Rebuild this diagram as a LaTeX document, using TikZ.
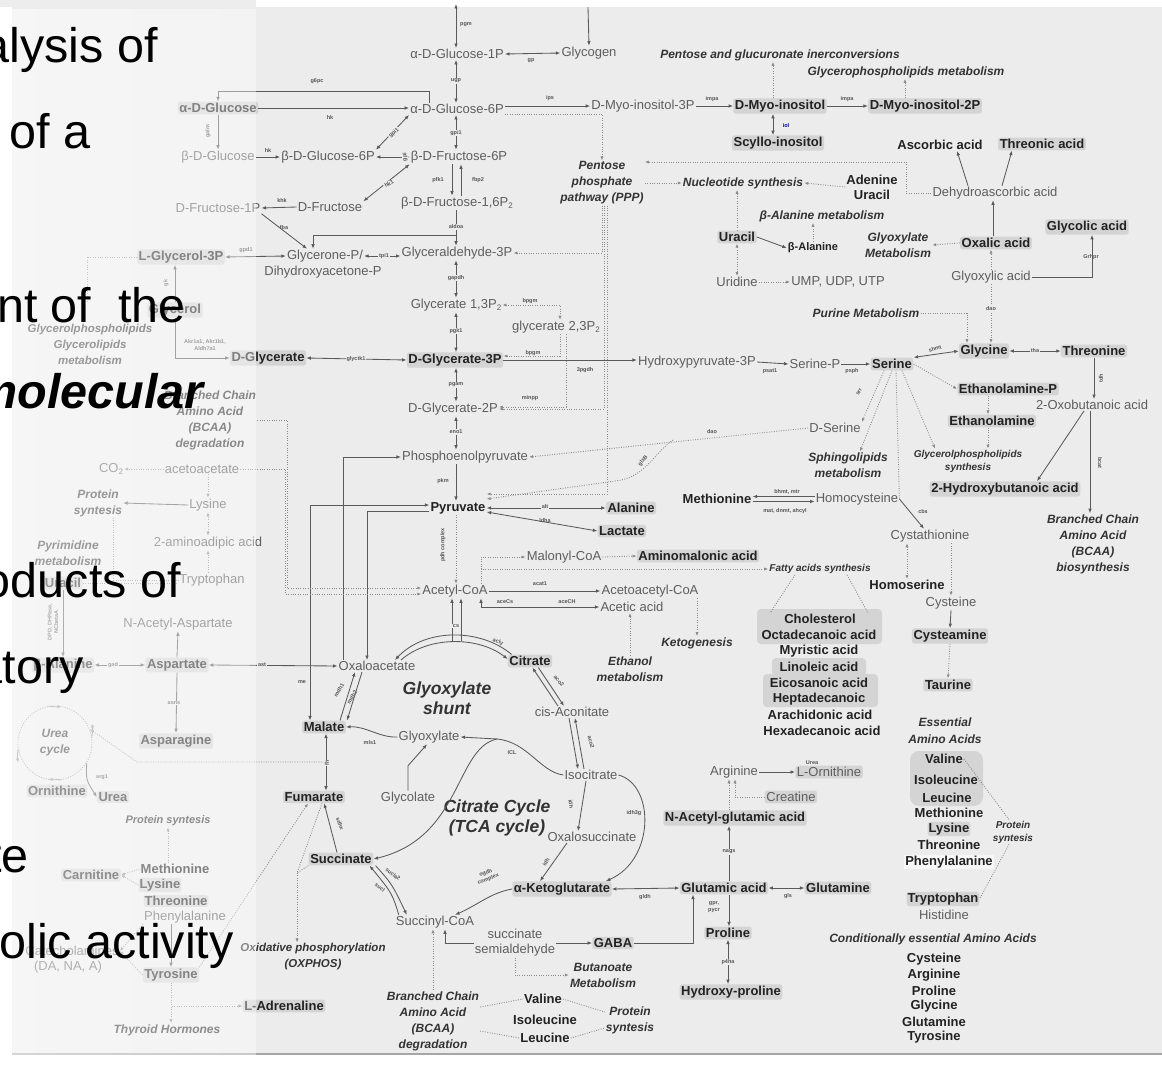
\documentclass[tikz,border=0pt]{standalone}
\usepackage{fontspec}
\setmainfont{Liberation Sans}
\usetikzlibrary{arrows.meta,calc,fadings}
\definecolor{bg}{HTML}{ECECEC}
\definecolor{hl}{HTML}{D4D4D4}
\definecolor{metc}{HTML}{5E5E5E}
\definecolor{keyc}{HTML}{222222}
\definecolor{routec}{HTML}{333333}
\definecolor{linec}{HTML}{5A5A5A}
\definecolor{dotc}{HTML}{8C8C8C}
\definecolor{enzc}{HTML}{555555}
\newcommand\subtwo{\raisebox{-0.3ex}{\fontsize{8}{8}\selectfont 2}}
\tikzfading[name=slidefade, left color=transparent!46, right color=transparent!60]
\tikzset{
  met/.style={font=\fontsize{13}{15}\selectfont, text=metc, inner sep=1pt, align=center},
  kmet/.style={font=\bfseries\fontsize{13}{15}\selectfont, text=keyc, fill=hl, rounded corners=2.5pt, inner sep=1.6pt, align=center},
  keyplain/.style={font=\bfseries\fontsize{13}{15}\selectfont, text=keyc, inner sep=1pt, align=center},
  keyreg/.style={met, fill=hl, rounded corners=2.5pt, inner sep=1.6pt},
  route/.style={font=\bfseries\itshape\fontsize{12}{16}\selectfont, text=routec, align=center, inner sep=1pt},
  routesm/.style={route, font=\bfseries\itshape\fontsize{10}{13}\selectfont},
  routebig/.style={route, font=\bfseries\itshape\fontsize{17.5}{20}\selectfont},
  enz/.style={font=\bfseries\fontsize{5.5}{6.5}\selectfont, text=enzc, inner sep=0.8pt, align=center},
  enzb/.style={enz, fill=bg},
  rx/.style={draw=linec, line width=0.85pt, -{Latex[length=4.5pt,width=3.6pt]}},
  rxx/.style={draw=linec, line width=0.85pt, {Latex[length=4.5pt,width=3.6pt]}-{Latex[length=4.5pt,width=3.6pt]}},
  rl/.style={draw=linec, line width=0.85pt},
  dotl/.style={draw=dotc, line width=0.9pt, dash pattern=on 0.9pt off 1.5pt},
  dota/.style={dotl, -{Latex[length=4pt,width=3.2pt]}},
  dotaa/.style={dotl, {Latex[length=4pt,width=3.2pt]}-{Latex[length=4pt,width=3.2pt]}},
  circtip/.style={draw=dotc, line width=0.9pt, -{Latex[length=4pt,width=3.2pt]}},
  slide/.style={font=\fontsize{48.5}{52}\selectfont, text=black, anchor=base east, inner sep=0pt},
}
\begin{document}
\begin{tikzpicture}[x=1pt, y=-1pt]
\useasboundingbox (0,0) rectangle (1162,1065);
% panel
\fill[white] (0,0) rectangle (1162,1065);
\fill[bg] (12,7) rectangle (1162,1054);
\fill[black!7] (0,0) rectangle (256,7);
\draw[black!35, line width=1.2pt] (12,1054) -- (1162,1054);

% ---------- glycolysis column ----------
\coordinate (colx) at (456,0);
\coordinate (colL) at (452,0);
\coordinate (colR) at (461,0);
\node[met] (g1p) at (457,54) {α-D-Glucose-1P};
\node[met] (glycogen) at (589,53) {Glycogen};
\node[met] (g6p) at (457,109) {α-D-Glucose-6P};
\node[met] (f6p) at (459,157) {β-D-Fructose-6P};
\node[met] (f16p) at (457,203) {β-D-Fructose-1,6P\subtwo};
\node[met] (gap) at (457,253) {Glyceraldehyde-3P};
\node[met] (bpg13) at (456,305) {Glycerate 1,3P\subtwo};
\node[met] (bpg23) at (556,327) {glycerate 2,3P\subtwo};
\node[kmet] (pg3) at (455,360) {D-Glycerate-3P};
\node[met] (pg2) at (453,409) {D-Glycerate-2P};
\node[met] (pep) at (465,457) {Phosphoenolpyruvate};
\node[keyplain] (pyr) at (458,508) {Pyruvate};
\node[met] (accoa) at (455,591) {Acetyl-CoA};

\coordinate (glyin) at (456,4);
\coordinate (glycin) at (588,7);
\draw[rxx] (glyin) -- (g1p.north -| colx);
\draw[rx] (glycin) -- (glycogen.north);
\draw[rxx] (g1p.east) -- (glycogen.west);
\draw[rxx] (g1p.south -| colx) -- (g6p.north -| colx);
\draw[rxx] (g6p.south -| colx) -- (f6p.north -| colx);
\draw[rx] (f6p.south -| colL) -- (f16p.north -| colL);
\draw[rx] (f16p.north -| colR) -- (f6p.south -| colR);
\draw[rx] (f16p.south -| colx) -- (gap.north -| colx);
\draw[rxx] (gap.south -| colx) -- (bpg13.north -| colx);
\draw[rxx] (bpg13.south -| colx) -- (pg3.north -| colx);
\draw[rxx] (pg3.south -| colx) -- (pg2.north -| colx);
\draw[rxx] (pg2.south -| colx) -- (pep.north -| colx);
\draw[rx] (pep.south -| colx) -- (pyr.north -| colx);
\draw[dota] (pyr.south -| colx) -- (accoa.north -| colx);

\node[enz] (ePgm) at (466,25) {pgm};
\node[enz] (eGp) at (531,61) {gp};
\node[enzb] (eUgp) at (456,81) {ugp};
\node[enzb] (eGpi) at (456,133) {gpi1};
\node[enz] (ePfk) at (438,180) {pfk1};
\node[enz] (eFbp) at (478,180) {fbp2};
\node[enzb] (eAld) at (456,227) {aldoa};
\node[enzb] (eGapdh) at (456,278) {gapdh};
\node[enzb] (ePgk) at (456,331) {pgk1};
\node[enzb] (ePgam) at (456,385) {pgam};
\node[enzb] (eEno) at (456,432) {eno1};
\node[enz] (ePkm) at (443,481) {pkm};
\node[enz, rotate=90] (ePdh) at (443,545) {pdh complex};

% ---------- glucose / fructose branch ----------
\node[kmet] (aglc) at (218,108) {α-D-Glucose};
\node[met] (bglc) at (218,157) {β-D-Glucose};
\node[met] (bg6p) at (328,157) {β-D-Glucose-6P};
\node[met] (fru1p) at (218,208) {D-Fructose-1P};
\node[met] (fru) at (330,207) {D-Fructose};
\node[met] (glycerone) at (325,256) {Glycerone-P/};
\node[met] (dhap) at (323,272) {Dihydroxyacetone-P};
\node[kmet] (g3p) at (181,257) {L-Glycerol-3P};
\node[kmet] (glycerol) at (175,310) {Glycerol};
\node[kmet] (dglyc) at (268,358) {D-Glycerate};
\node[route, font=\bfseries\itshape\fontsize{11.5}{16}\selectfont] (glmet) at (90,344) {Glycerolphospholipids\\Glycerolipids\\metabolism};

\draw[rx] (aglc.east) -- (aglc.east -| g6p.west);
\draw[rx] ([xshift=-28pt]g6p.north) -- ++(0,-12) -| (aglc.north);
\draw[rx] (aglc.south) -- (bglc.north);
\draw[rx] (bglc.east) -- (bg6p.west);
\draw[rxx] (bg6p.north east) -- (g6p.south west);
\draw[rxx] (bg6p.east) -- (f6p.west);
\draw[rxx] (fru.north east) -- (f6p.south west);
\draw[rx] (fru.west) -- (fru1p.east);
\draw[rx] (fru1p.south east) -- ([xshift=-18pt]glycerone.north);
\coordinate (aldj) at (456,235);
\draw[rx] (aldj) -| ([xshift=-12pt]glycerone.north);
\draw[rxx] (g3p.east) -- (glycerone.west);
\draw[rxx] (glycerone.east) -- (glycerone.east -| gap.west);
\draw[rx] (glycerol.north) -- (glycerol.north |- g3p.south);
\coordinate (glpl) at (87,302);
\draw[dotl] (g3p.west) -| (glpl);
\draw[rx] (glycerol.south) |- (dglyc.west);
\draw[rxx] (dglyc.east) -- (pg3.west);

\node[enz] (eG6pc) at (317,81) {g6pc};
\node[enz] (eHk1) at (330,118) {hk};
\node[enz, rotate=90] (eGalm) at (208,131) {galm};
\node[enz] (eHk2) at (268,151) {hk};
\node[enzb, rotate=41] (eGpiA) at (394,133) {gpi1};
\node[enzb, rotate=90] (eGpiB) at (405,157) {gpi};
\node[enzb, rotate=28] (eHkA) at (389,184) {hk1};
\node[enz] (eKhk) at (282,201) {khk};
\node[enz] (eFba) at (284,228) {fba};
\node[enz] (eGpd) at (246,250) {gpd1};
\node[enzb] (eTpi) at (384,256) {tpi1};
\node[enz, rotate=90] (eGk) at (166,283) {gk};
\node[enz] (eAkr) at (205,345) {Akr1a1, Akr1b1,\\Aldh7a1};
\node[enzb] (eGlyctk) at (356,359) {glyctk1};

% ---------- PPP and serine ----------
\node[route] (ppp) at (602,183) {Pentose\\phosphate\\pathway (PPP)};
\draw[dota] ([yshift=-5pt]g6p.east) -| (ppp.north);
\draw[dota] (ppp.south) |- (gap.east);
\draw[dota] ([xshift=2pt]ppp.south) |- (pg2.east);
\draw[dota] ([xshift=5pt]ppp.south) |- ([yshift=14pt]pyr.east);
\draw[dotaa] (bpg13.east) -| ([xshift=4pt]bpg23.north);
\draw[dota] ([xshift=4pt]bpg23.south) |- ([yshift=4pt]pg3.east);
\draw[dota] ([xshift=10pt]bpg23.south) |- ([yshift=2pt]pg2.east);
\node[enz] (eBpgm1) at (530,301) {bpgm};
\node[enz] (eBpgm2) at (533,353) {bpgm};
\node[enz] (eMinpp) at (530,398) {minpp};

\node[met] (hp3) at (697,362) {Hydroxypyruvate-3P};
\node[met] (serp) at (815,364) {Serine-P};
\node[kmet] (ser) at (892,364) {Serine};
\node[kmet] (gly) at (984,351) {Glycine};
\node[kmet] (thr) at (1094,351) {Threonine};
\node[met] (oxb) at (1092,405) {2-Oxobutanoic acid};
\node[kmet] (hba) at (1005,489) {2-Hydroxybutanoic acid};
\node[route] (bcaabio) at (1093,544) {Branched Chain\\Amino Acid\\(BCAA)\\biosynthesis};
\node[kmet] (etnp) at (1008,389) {Ethanolamine-P};
\node[kmet] (etn) at (992,421) {Ethanolamine};
\node[routesm] (gpls) at (968,461) {Glycerolphospholipids\\synthesis};
\node[met] (dser) at (835,428) {D-Serine};
\node[route] (sphingo) at (848,465) {Sphingolipids\\metabolism};

\draw[rx] (pg3.east) -- (pg3.east -| hp3.west);
\draw[rx] (hp3.east) -- (serp.west);
\draw[rx] (serp.east) -- (ser.west);
\draw[rxx] (ser.north east) -- (gly.west);
\draw[rxx] (gly.east) -- (thr.west);
\draw[rx] (thr.south) -- (thr.south |- oxb.north);
\draw[rx] ([xshift=-8pt]oxb.south) -- ([xshift=32pt]hba.north);
\draw[rx] ([xshift=-2pt]oxb.south) -- ([xshift=-3pt]bcaabio.north);
\draw[dota] (ser.east) -- (etnp.west);
\draw[dota] ([xshift=-20pt]etnp.south) -- ([xshift=-4pt]etn.north);
\draw[dota] ([xshift=-4pt]etn.south) -- ([xshift=20pt]gpls.north);
\draw[dota] ([xshift=-8pt]ser.south) -- (dser.north east);
\draw[dota] (ser.south) -- ([xshift=12pt]sphingo.north);
\draw[dota] ([xshift=10pt]ser.south) -- ([xshift=-33pt]gpls.north);

\node[enz] (e3pg) at (585,370) {3pgdh};
\node[enz] (ePsat) at (770,371) {psat1};
\node[enz] (ePsph) at (852,371) {psph};
\node[enz, rotate=18] (eShmt) at (935,349) {shmt};
\node[enzb] (eTha) at (1035,351) {tha};
\node[enz, rotate=90] (eTdh) at (1101,378) {tdh};
\node[enz, rotate=-90] (eBcat) at (1100,463) {bcat};
\node[enz, rotate=62] (eSrr) at (859,392) {srr};

% ---------- inositol, nucleotides, ascorbate ----------
\node[met] (mi3p) at (643,106) {D-Myo-inositol-3P};
\node[kmet] (myo) at (780,106) {D-Myo-inositol};
\node[kmet] (myo2p) at (925,106) {D-Myo-inositol-2P};
\node[kmet] (scyl) at (778,143) {Scyllo-inositol};
\node[route] (pgi) at (780,55) {Pentose and glucuronate inerconversions};
\node[route] (gpm) at (906,72) {Glycerophospholipids metabolism};
\draw[rx] (g6p.east |- mi3p.west) -- (mi3p.west);
\draw[rx] (mi3p.east) -- (myo.west);
\draw[rx] (myo.east) -- (myo2p.west);
\draw[rxx] ([xshift=-7pt]myo.south) -- ([xshift=-5pt]scyl.north);
\draw[dota] ([xshift=-7pt]myo.north) -- ([xshift=-7pt]myo.north |- pgi.south);
\draw[dota] ([xshift=-20pt]myo2p.north) -- ([xshift=-20pt]myo2p.north |- gpm.south);
\node[enz] (eIps) at (550,98) {ips};
\node[enz] (eImpa1) at (712,99) {impa};
\node[enz] (eImpa2) at (847,99) {impa};
\node[enz, text=blue!65!black] (eIol) at (786,126) {iol};

\node[route] (nuc) at (743,183) {Nucleotide synthesis};
\node[keyplain] (ade) at (872,187) {Adenine\\Uracil};
\node[met] (dha) at (995,193) {Dehydroascorbic acid};
\node[keyplain] (asc) at (940,145) {Ascorbic acid};
\node[kmet] (thra) at (1042,144) {Threonic acid};
\node[kmet] (oxa) at (996,243) {Oxalic acid};
\node[route] (glxm) at (898,245) {Glyoxylate\\Metabolism};
\node[kmet] (glcA) at (1087,227) {Glycolic acid};
\node[met] (glxa) at (991,277) {Glyoxylic acid};
\node[route] (purine) at (866,313) {Purine Metabolism};
\node[kmet] (ura2) at (737,237) {Uracil};
\node[keyplain, font=\bfseries\fontsize{11}{13}\selectfont] (bala2) at (813,248) {β-Alanine};
\node[route] (balam) at (822,216) {β-Alanine metabolism};
\node[met] (urd) at (737,282) {Uridine};
\node[met] (ump) at (838,282) {UMP, UDP, UTP};

\draw[dota] (ppp.east) -- (nuc.west);
\draw[dota] (ade.west) -- (nuc.east);
\draw[dota] (dha.west) -- ++(-25,0) |- ([yshift=21pt]ppp.east);
\draw[rx] ([xshift=-27pt]dha.north) -- ([xshift=17pt]asc.south);
\draw[rx] ([xshift=7pt]dha.north) -- ([xshift=-30pt]thra.south);
\draw[rx] ([xshift=-3pt]oxa.north) -- ([xshift=-3pt]oxa.north |- dha.south);
\draw[dota] (oxa.west) -- (glxm.east);
\draw[rx] (glxa.east) -| ([xshift=5pt]glcA.south);
\draw[dota] (glxa.north) -- (glxa.north |- oxa.south);
\draw[dota] (glxa.south) -- (glxa.south |- gly.north);
\draw[dota] (purine.east) -| ([xshift=-17pt]gly.north);
\draw[rx] (ura2.east) -- (bala2.west);
\draw[dota] (bala2.north) -- (bala2.north |- balam.south);
\draw[dota] (ura2.north) -- (ura2.north |- nuc.south);
\draw[dotaa] (ura2.south) -- (urd.north);
\draw[dota] (urd.east) -- (ump.west);
\node[enz] (eGrhpr) at (1091,257) {Grhpr};
\node[enzb] (eDao1) at (991,309) {dao};

% ---------- pyruvate, acetyl-CoA ----------
\node[kmet] (ala) at (631,508) {Alanine};
\node[kmet] (lac) at (622,531) {Lactate};
\draw[rxx] (pyr.east) -- (ala.west);
\draw[rxx] ([yshift=-4pt]pyr.east) -- (lac.west);
\node[enzb] (eAlt) at (545,507) {alt};
\node[enz] (eLdh) at (545,521) {ldha};

\node[met] (malcoa) at (564,557) {Malonyl-CoA};
\node[kmet] (amal) at (698,556) {Aminomalonic acid};
\node[routesm] (fas) at (820,569) {Fatty acids synthesis};
\node[met] (aacoa) at (650,591) {Acetoacetyl-CoA};
\node[met] (acet) at (632,607) {Acetic acid};
\node[route] (keto) at (697,643) {Ketogenesis};
\node[route] (ethmet) at (630,669) {Ethanol\\metabolism};
\draw[dota] ([xshift=26pt]accoa.north) |- (malcoa.west);
\draw[dota] ([xshift=26pt]accoa.north) |- (fas.west);
\draw[dota] (malcoa.east) -- (amal.west);
\draw[rx] (accoa.east) -- (aacoa.west);
\draw[rxx] ([xshift=26pt]accoa.south) |- (acet.west);
\draw[dota] (keto.north |- aacoa.south) -- (keto.north);
\draw[dota] (ethmet.north) -- (ethmet.north |- acet.south);
\node[enz] (eAcat) at (540,584) {acat1};
\node[enz] (eAceCs) at (505,602) {aceCs};
\node[enz] (eAceCH) at (567,602) {aceCH};

% D-serine links
\draw[dota] (dser.west) -- (pep.east);
\coordinate (daob) at (673,440);
\draw[dota] (daob) .. controls (652,455) and (645,478) .. (615,481) -- ([yshift=9pt]pyr.east);
\node[enz] (eDao2) at (712,432) {dao};
\node[enz, rotate=50] (eGlx) at (643,461) {glxB};

% methionine cycle
\node[keyplain] (meth) at (717,499) {Methionine};
\node[met] (hcy) at (857,499) {Homocysteine};
\node[met] (cysta) at (930,536) {Cystathionine};
\node[keyplain] (hser) at (907,585) {Homoserine};
\node[met] (cys) at (951,603) {Cysteine};
\node[kmet] (cysm) at (950,636) {Cysteamine};
\node[kmet] (tau) at (948,685) {Taurine};
\draw[rx] ([yshift=2.5pt]hcy.west) -- ([yshift=2.5pt]meth.east);
\draw[rx] ([yshift=-2.5pt]meth.east) -- ([yshift=-2.5pt]hcy.west);
\draw[dotl] ([xshift=4pt]ser.south) -- (hcy.east);
\draw[rx] (hcy.east) -- ([xshift=-6pt]cysta.north);
\draw[dotaa] ([xshift=-23pt]cysta.south) -- (hser.north);
\draw[dota] (cysta.south -| cys.north) -- (cys.north);
\draw[rx] (cys.south) -- (cysm.north);
\draw[dota] (cysm.south) -- (tau.north);
\node[enz] (eBhmt) at (787,492) {bhmt, mtr};
\node[enz] (eMat) at (785,511) {mat, dnmt, ahcyl};
\node[enz] (eCbs) at (923,512) {cbs};

% fatty acids
\fill[hl, rounded corners=4pt] (757,609) rectangle (882,644);
\fill[hl, rounded corners=4pt] (772,658) rectangle (866,676);
\fill[hl, rounded corners=4pt] (763,674) rectangle (878,707);
\node[keyplain] (chol) at (820,619) {Cholesterol};
\node[keyplain] (octa) at (819,635) {Octadecanoic acid};
\node[keyplain] (myr) at (819,651) {Myristic acid};
\node[keyplain] (lino) at (819,667) {Linoleic acid};
\node[keyplain] (eico) at (819,683) {Eicosanoic acid};
\node[keyplain] (hepta) at (819,699) {Heptadecanoic};
\node[keyplain] (arach) at (820,715) {Arachidonic acid};
\node[keyplain] (hexa) at (822,731) {Hexadecanoic acid};
\draw[dotl] ([xshift=-25pt]fas.south) -- ([xshift=-50pt]chol.north);
\draw[dotl] ([xshift=27pt]fas.south) -- ([xshift=48pt]chol.north);

% ---------- TCA cycle ----------
\node[met] (oaa) at (377,666) {Oxaloacetate};
\node[kmet] (cit) at (530,661) {Citrate};
\node[met] (cisa) at (572,712) {cis-Aconitate};
\node[met] (icit) at (591,775) {Isocitrate};
\node[met] (oxs) at (592,837) {Oxalosuccinate};
\node[kmet] (akg) at (562,889) {α-Ketoglutarate};
\node[met] (succoa) at (435,922) {Succinyl-CoA};
\node[kmet] (succ) at (341,859) {Succinate};
\node[kmet] (fum) at (314,797) {Fumarate};
\node[kmet] (mal) at (324,727) {Malate};
\node[met] (glyox) at (429,737) {Glyoxylate};
\node[met] (glyc) at (408,798) {Glycolate};
\node[routebig] (shunt) at (447,698) {Glyoxylate\\shunt};
\node[routebig] (tcalab) at (497,818) {Citrate Cycle\\(TCA cycle)};

\draw[rx] ([xshift=4pt]cit.north west) .. controls (480,628) and (425,628) .. ([xshift=18pt]oaa.north);
\draw[rx] ([xshift=24pt]oaa.north) .. controls (428,636) and (478,636) .. ([yshift=2pt]cit.west);
\coordinate (csa) at (452,641);
\coordinate (csb) at (461,641);
\draw[rx] (csa) -- ([xshift=-3pt]accoa.south);
\draw[rx] (csb) -- ([xshift=6pt]accoa.south);
\draw[rx] ([xshift=-14pt]cit.south east) -- ([xshift=-8pt]cisa.north);
\draw[rx] ([xshift=-14pt]cisa.north) -- ([xshift=-20pt]cit.south east);
\draw[rx] ([xshift=-3pt]cisa.south) -- ([xshift=-13pt]icit.north);
\draw[rx] ([xshift=-7pt]icit.north) -- ([xshift=3pt]cisa.south);
\draw[rx] ([xshift=-5pt]icit.south) -- ([xshift=-14pt]oxs.north);
\draw[rx] ([xshift=-25pt]oxs.south) -- ([xshift=-22pt]akg.north);
\draw[rx] (icit.east) .. controls (655,785) and (655,860) .. ([xshift=-6pt]akg.north east);
\draw[rx] (akg.west) .. controls (490,893) and (478,905) .. ([xshift=20pt]succoa.north);
\draw[rx] ([xshift=4pt]succoa.north west) .. controls (392,893) .. ([xshift=-4pt]succ.south east);
\draw[rx] ([xshift=2pt]succ.south east) .. controls (392,884) .. ([xshift=12pt]succoa.north west);
\draw[rx] ([xshift=-4pt]succ.north) .. controls (332,830) .. ([xshift=10pt]fum.south);
\draw[rxx] ([xshift=12pt]fum.north) -- ([xshift=2pt]mal.south);
\draw[rx] ([xshift=-6pt]mal.north east) -- ([xshift=-22pt]oaa.south);
\draw[rx] ([xshift=-15pt]oaa.south) -- ([xshift=1pt]mal.north east);
\draw[rx] (glyox.west) .. controls (380,738) and (366,726) .. (mal.east);
\draw[rx] (glyc.north) -- ++(0,-25) -- ([xshift=-2pt]glyox.south);
\coordinate (iclj) at (497,739);
\draw[rl] (icit.west) .. controls (540,772) and (528,742) .. (iclj);
\draw[rx] (iclj) -- (glyox.east);
\draw[rx] (iclj) .. controls (455,748) and (462,838) .. (succ.east);

\node[enzb] (eCs) at (456,626) {cs};
\node[enz, rotate=-18] (eAcly) at (498,642) {acly};
\node[enz, rotate=-48] (eAco1) at (559,681) {aco2};
\node[enz, rotate=-75] (eAco2) at (591,742) {aco2};
\node[enz, rotate=-80] (eIdh1) at (571,804) {idh};
\node[enz, rotate=58] (eIdh2) at (546,862) {idh};
\node[enz] (eIdh3) at (634,813) {idh3g};
\node[enz, rotate=22] (eOgdh) at (487,876) {ogdh\\complex};
\node[enz, rotate=-38] (eSucl1) at (393,874) {sucla2};
\node[enz, rotate=-38] (eSucl2) at (380,887) {sucl};
\node[enz, rotate=-68] (eSdh) at (340,824) {sdhx};
\node[enzb, rotate=90] (eFh) at (327,763) {fh};
\node[enz, rotate=58] (eMdh1) at (339,690) {mdh1};
\node[enz, rotate=58] (eMdh2) at (352,697) {mdh2};
\node[enz] (eMls) at (370,743) {mls1};
\node[enz] (eIcl) at (512,753) {ICL};
\node[enz] (eMe) at (302,682) {me};

% anaplerotic links
\draw[rx] ([xshift=-34pt]oaa.north) |- (pep.west);
\draw[rx] ([yshift=-3pt]pyr.west) -| ([xshift=-10pt]oaa.north);
\draw[rxx] ([xshift=-14pt]mal.north) |- ([yshift=3pt]pyr.west);

% ---------- glutamate / GABA ----------
\node[kmet] (glu) at (724,888) {Glutamic acid};
\node[kmet] (gln) at (838,888) {Glutamine};
\node[kmet] (nag) at (735,818) {N-Acetyl-glutamic acid};
\node[met] (arg) at (734,772) {Arginine};
\node[keyreg] (orn2) at (829,772) {L-Ornithine};
\node[keyreg] (crea) at (791,797) {Creatine};
\node[kmet] (pro) at (728,933) {Proline};
\node[kmet] (hyp) at (731,992) {Hydroxy-proline};
\node[met] (ssa) at (515,943) {succinate\\semialdehyde};
\node[kmet] (gaba) at (613,943) {GABA};
\node[route] (buta) at (603,975) {Butanoate\\Metabolism};

\draw[rxx] (akg.east) -- (glu.west);
\draw[rxx] (glu.east) -- (gln.west);
\draw[rx] ([xshift=5pt]glu.north) -- ([xshift=5pt]glu.north |- nag.south);
\draw[dota] ([xshift=-5pt]arg.south |- nag.north) -- ([xshift=-5pt]arg.south);
\draw[dota] (crea.west) -| ([xshift=1pt]arg.south);
\draw[rx] (arg.east) -- (orn2.west);
\draw[rx] ([xshift=5pt]glu.south) -- ([xshift=5pt]glu.south |- pro.north);
\draw[rxx] (pro.south) -- (pro.south |- hyp.north);
\draw[rx] (ssa.east) -- (gaba.west);
\draw[rx] (gaba.east) -| ([xshift=-31pt]glu.south);
\draw[rx] (ssa.west) -| ([xshift=10pt]succoa.south);
\draw[dota] (ssa.south) |- (buta.west);
\node[enz] (eGldh) at (645,897) {gldh};
\node[enz] (eGls) at (788,896) {gls};
\node[enzb] (eNags) at (729,852) {nags};
\node[enz] (eGpr) at (714,907) {gpr,\\pycr};
\node[enzb] (eP4ha) at (728,962) {p4ha};
\node[enz] (eUrea) at (812,763) {Urea};

% bottom BCAA
\node[route] (bcaadeg2) at (433,1021) {Branched Chain\\Amino Acid\\(BCAA)\\degradation};
\node[keyplain] (val3) at (543,999) {Valine};
\node[keyplain] (ile3) at (545,1020) {Isoleucine};
\node[keyplain] (leu3) at (545,1038) {Leucine};
\node[route] (prot3) at (630,1020) {Protein\\syntesis};
\draw[dota] (bcaadeg2.north) -- (bcaadeg2.north |- succoa.south);
\draw[dotl] ([yshift=14pt]bcaadeg2.east) -- (val3.west);
\draw[dotl] ([yshift=-10pt]bcaadeg2.east) -- (leu3.west);
\draw[dotl] (val3.east) -- ([yshift=8pt]prot3.west);
\draw[dotl] (leu3.east) -- ([yshift=-8pt]prot3.west);

% ---------- essential amino acids ----------
\fill[hl, rounded corners=9pt] (910,751) rectangle (983,806);
\node[route, font=\bfseries\itshape\fontsize{12}{17}\selectfont] (ess) at (945,731) {Essential\\Amino Acids};
\node[keyplain] (val1) at (944,759) {Valine};
\node[keyplain] (ile1) at (946,780) {Isoleucine};
\node[keyplain] (leu1) at (947,798) {Leucine};
\node[keyplain] (met1) at (949,813) {Methionine};
\node[kmet, inner sep=1pt] (lys1) at (949,829) {Lysine};
\node[keyplain] (thr1) at (949,845) {Threonine};
\node[keyplain, fill=white!60!bg] (phe1) at (949,862) {Phenylalanine};
\node[kmet, inner sep=1pt] (trp1) at (943,899) {Tryptophan};
\node[met] (his1) at (944,915) {Histidine};
\node[routesm] (prot4) at (1013,832) {Protein\\syntesis};
\draw[dotl] (val1.east) -- ([xshift=-4pt]prot4.north);
\draw[dotl] ([xshift=-4pt]prot4.south) -- (trp1.east);
\node[route] (cond) at (933,939) {Conditionally essential Amino Acids};
\node[keyplain] (cnd1) at (934,959) {Cysteine};
\node[keyplain] (cnd2) at (934,975) {Arginine};
\node[keyplain] (cnd3) at (934,991) {Proline};
\node[keyplain] (cnd4) at (934,1006) {Glycine};
\node[keyplain] (cnd5) at (934,1022) {Glutamine};
\node[keyplain] (cnd6) at (934,1037) {Tyrosine};

% ---------- left side ----------
\node[route] (bcaadeg1) at (210,420) {Branched Chain\\Amino Acid\\(BCAA)\\degradation};
\node[met] (acac) at (202,469) {acetoacetate};
\node[met] (co2) at (111,469) {CO\subtwo};
\node[met] (lys) at (208,505) {Lysine};
\node[met] (aaa) at (208,543) {2-aminoadipic acid};
\node[met] (trp) at (212,580) {Tryptophan};
\node[route] (prot1) at (98,503) {Protein\\syntesis};
\node[route] (pyrim) at (68,553) {Pyrimidine\\metabolism};
\node[kmet] (uracl) at (63,583) {Uracil};
\node[met] (naa) at (178,624) {N-Acetyl-Aspartate};
\node[kmet] (asp) at (177,665) {Aspartate};
\node[kmet] (bala) at (63,665) {β-Alanine};
\node[kmet] (asn) at (176,741) {Asparagine};

\draw[dota] (bcaadeg1.east) -- ++(30,0) |- ([yshift=3pt]accoa.west);
\draw[dota] (acac.east) -- ++(45,0) |- ([yshift=-3pt]accoa.west);
\draw[dota] (acac.west) -- (co2.east);
\draw[dota] (acac.south -| lys.north) -- (lys.north);
\draw[dotaa] (aaa.north) -- (lys.south);
\draw[dota] (trp.north -| aaa.south) -- (aaa.south);
\draw[rx] (lys.west) -- (prot1.east);
\draw[dotl] ([xshift=15pt]prot1.south) |- (trp.west);
\draw[dotl] (uracl.east) -- (uracl.east -| trp.west);
\draw[rx] (uracl.south) -- (bala.north);
\draw[rxx] (bala.east) -- (asp.west);
\draw[rx] (asp.north) -- (naa.south);
\draw[rx] (asp.south) -- (asn.north);
\draw[rxx] (asp.east) -- (oaa.west);
\node[enzb] (eAst) at (262,665) {ast};
\node[enzb] (eGad) at (113,665) {gad};
\node[enzb] (eAsns) at (174,703) {asns};
\node[enz, rotate=90] (eDpd) at (53,622) {DPD, DHPase,\\NCbetaA};

% urea cycle
\node[route, circle, draw=dotc, line width=0.9pt, dash pattern=on 0.9pt off 1.6pt, minimum size=74pt] (ucyc) at (55,743) {Urea\\cycle};
\draw[circtip] (ucyc.100) arc[start angle=-100, end angle=-80, radius=37.5pt];
\draw[circtip] (ucyc.10) arc[start angle=-10, end angle=10, radius=37.5pt];
\draw[circtip] (ucyc.-80) arc[start angle=80, end angle=100, radius=37.5pt];
\draw[circtip] (ucyc.190) arc[start angle=170, end angle=190, radius=37.5pt];
\node[kmet] (orn) at (57,791) {Ornithine};
\node[kmet] (urea) at (113,797) {Urea};
\draw[rx] (ucyc.-32) .. controls (86,780) .. (urea.west);
\node[enz] (eArg) at (102,777) {arg1};
\coordinate (fhlink) at (322,762);
\draw[dota] (fhlink) -- (137,762) -- (ucyc.22);

% aromatic / carnitine block
\node[route, font=\bfseries\itshape\fontsize{11}{13}\selectfont] (prot2) at (168,821) {Protein syntesis};
\node[kmet] (carn) at (91,875) {Carnitine};
\node[keyplain] (met2) at (175,869) {Methionine};
\node[kmet, inner sep=1pt] (lys2) at (160,885) {Lysine};
\node[kmet, inner sep=1pt] (thr2) at (176,901) {Threonine};
\node[met] (phe2) at (185,917) {Phenylalanine};
\node[met] (cat) at (72,951) {Catecholamines};
\node[met] (cat2) at (68,967) {(DA, NA, A)};
\node[kmet] (tyr2) at (171,975) {Tyrosine};
\node[kmet] (adr) at (284,1006) {L-Adrenaline};
\node[route] (thyr) at (167,1030) {Thyroid Hormones};
\node[route, font=\bfseries\itshape\fontsize{11.5}{16}\selectfont] (oxphos) at (313,957) {Oxidative phosphorylation\\(OXPHOS)};

\draw[dota] (prot2.south |- met2.north) -- (prot2.south);
\draw[dota] (met2.west) -- (carn.east);
\draw[dota] (lys2.west) -- (carn.east);
\draw[rx] (phe2.south -| tyr2.north) -- (tyr2.north);
\draw[dota] (phe2.south west) -- (cat.east);
\draw[dota] (tyr2.west) -- (cat.east);
\draw[dota] (tyr2.south) |- (adr.west);
\draw[dota] (tyr2.south) -- (tyr2.south |- thyr.north);
\draw[dota] (tyr2.north east) -- ([xshift=-6pt]fum.south);
\coordinate (oxj) at (297,873);
\draw[dotl] ([xshift=8pt]fum.south) -- (oxj);
\draw[dotl] (succ.south west) -- (oxj);
\draw[dota] (oxj) -- (oxj |- oxphos.north);

% ---------- slide overlay ----------
\fill[white, path fading=slidefade] (12,7) rectangle (256,1054);
\node[slide] (s1) at (158,63) {alysis of};
\node[slide] (s2) at (91,148) {of a};
\node[slide] (s3) at (186,322) {nt of\ \ the};
\node[slide, font=\bfseries\itshape\fontsize{48.5}{52}\selectfont] (s4) at (204,408) {molecular};
\node[slide] (s5) at (181,597) {oducts of};
\node[slide] (s6) at (84,683) {atory};
\node[slide] (s7) at (29,872) {te};
\node[slide] (s8) at (234,958) {olic activity};
\end{tikzpicture}
\end{document}
